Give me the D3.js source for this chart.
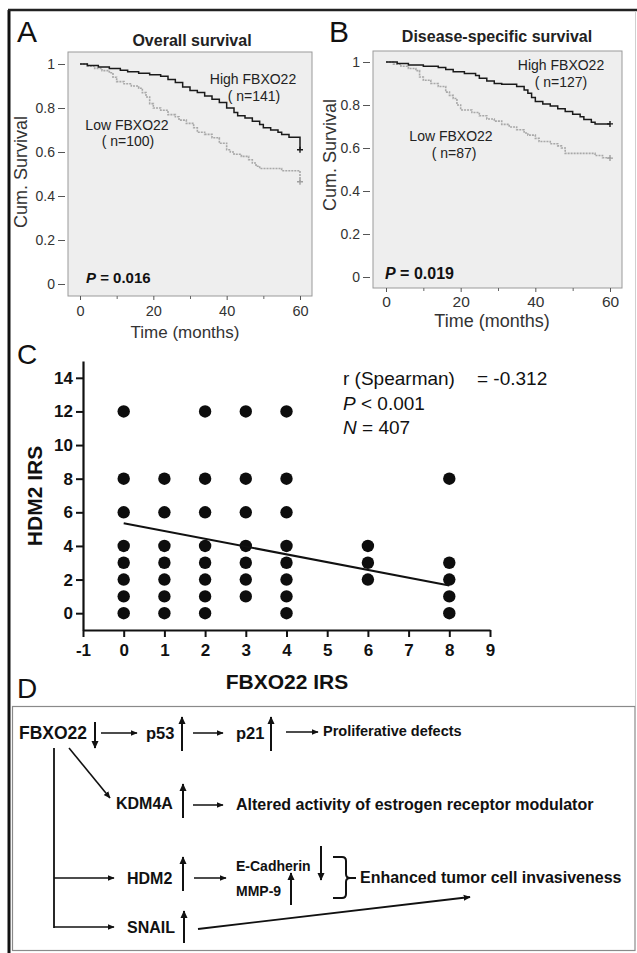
<!DOCTYPE html>
<html><head><meta charset="utf-8">
<script src="https://cdn.jsdelivr.net/npm/d3@7/dist/d3.min.js"></script>
<style>
html,body{margin:0;padding:0;background:#fff;}
svg{display:block;font-family:"Liberation Sans",Arial,Helvetica,sans-serif;}
</style></head><body>
<svg id="fig" width="637" height="953"></svg>
<script>
// ---------------- DATA ----------------
// Kaplan-Meier tick values
const kmTicksY = [0, 0.2, 0.4, 0.6, 0.8, 1];
const kmTickLabelsY = ["0", "0.2", "0.4", "0.6", "0.8", "1"];
const kmTicksX = [0, 20, 40, 60];
const kmMinorX = [10, 30, 50];

// Panel A: overall survival  [time (months), cumulative survival]
const osHigh = [[0,1],[2,0.993],[5,0.986],[8,0.979],[11,0.972],[13,0.965],[16,0.958],[19,0.951],[22,0.944],[24,0.93],[26,0.916],[28,0.895],[30,0.88],[32,0.87],[34,0.855],[36,0.84],[38,0.825],[40,0.8],[42,0.78],[43,0.765],[45,0.755],[47,0.74],[49,0.725],[50,0.71],[52,0.7],[54,0.69],[55,0.68],[57,0.667],[60,0.61]];
const osLow = [[0,1],[2,0.99],[4,0.98],[6,0.97],[8,0.96],[9,0.94],[10,0.92],[12,0.91],[14,0.9],[16,0.89],[17,0.87],[18,0.85],[19,0.82],[20,0.8],[22,0.79],[24,0.77],[26,0.76],[27,0.745],[29,0.73],[31,0.71],[32,0.69],[34,0.68],[36,0.665],[38,0.64],[40,0.61],[41,0.6],[42,0.59],[44,0.58],[46,0.565],[47,0.55],[48,0.535],[49,0.525],[55,0.515],[60,0.465]];
const osLabels = ["High FBXO22", "( n=141)", "Low FBXO22", "( n=100)"];
const osP = "0.016";

// Panel B: disease-specific survival
const dssHigh = [[0,1],[3,0.993],[6,0.986],[10,0.98],[14,0.974],[16,0.965],[18,0.955],[21,0.946],[24,0.937],[25,0.925],[27,0.912],[29,0.9],[31,0.897],[35,0.886],[37,0.87],[38,0.855],[39,0.835],[40,0.816],[42,0.805],[44,0.795],[46,0.783],[48,0.77],[50,0.757],[52,0.745],[53,0.733],[55,0.72],[56,0.712],[60,0.712]];
const dssLow = [[0,1],[2,0.99],[4,0.98],[6,0.97],[8,0.96],[9,0.93],[10,0.915],[12,0.9],[14,0.886],[16,0.86],[17,0.845],[18,0.83],[19,0.8],[20,0.777],[23,0.765],[25,0.75],[27,0.735],[29,0.725],[31,0.71],[33,0.698],[35,0.685],[37,0.67],[38,0.66],[40,0.645],[41,0.63],[44,0.62],[46,0.61],[47,0.6],[48,0.575],[56,0.565],[58,0.555],[60,0.553]];
const dssLabels = ["High FBXO22", "( n=127)", "Low FBXO22", "( n=87)"];
const dssP = "0.019";

// Panel C: scatter  FBXO22 IRS (x) vs HDM2 IRS (y)
const fbxo22IRS = [0,0,0,0,0,0,0,0, 1,1,1,1,1,1,1, 2,2,2,2,2,2,2,2, 3,3,3,3,3,3,3, 4,4,4,4,4,4,4,4, 6,6,6, 8,8,8,8,8];
const hdm2IRS   = [12,8,6,4,3,2,1,0, 8,6,4,3,2,1,0, 12,8,6,4,3,2,1,0, 12,8,6,4,3,2,1, 12,8,6,4,3,2,1,0, 4,3,2, 8,3,2,1,0];
const scatterTicksX = [-1,0,1,2,3,4,5,6,7,8,9];
const scatterTicksY = [0,2,4,6,8,10,12,14];
const regression = [[0,5.35],[8,1.65]];
const statsLines = ["r (Spearman)", "= -0.312", "< 0.001", "= 407"];

// ---------------- DRAW ----------------
const svg = d3.select("#fig");
const FONT = '"Liberation Sans",Arial,Helvetica,sans-serif';

const defs = svg.append("defs");
defs.append("marker").attr("id","ah").attr("viewBox","0 0 10 10")
  .attr("refX",9).attr("refY",5).attr("markerWidth",7).attr("markerHeight",7)
  .attr("markerUnits","userSpaceOnUse").attr("orient","auto")
  .append("path").attr("d","M0,0.8 L10,5 L0,9.2 Z").attr("fill","#111");
defs.append("marker").attr("id","ahs").attr("viewBox","0 0 10 10")
  .attr("refX",9).attr("refY",5).attr("markerWidth",8).attr("markerHeight",8)
  .attr("markerUnits","userSpaceOnUse").attr("orient","auto")
  .append("path").attr("d","M0,0.5 L10,5 L0,9.5 Z").attr("fill","#111");

// figure frame
svg.append("line").attr("x1",9).attr("y1",10).attr("x2",9).attr("y2",953).attr("stroke","#111").attr("stroke-width",3);
svg.append("line").attr("x1",8).attr("y1",10).attr("x2",637).attr("y2",10).attr("stroke","#222").attr("stroke-width",2.5);
svg.append("line").attr("x1",635.5).attr("y1",11).attr("x2",635.5).attr("y2",706).attr("stroke","#cfcfcf").attr("stroke-width",1);

function panelLetter(t,x,y,size){
  svg.append("text").attr("x",x).attr("y",y).attr("font-size",size).attr("fill","#111").text(t);
}

function drawKM(cfg){
  const g = svg.append("g");
  const x = d3.scaleLinear().domain([0,60]).range(cfg.xr);
  const y = d3.scaleLinear().domain([0,1]).range(cfg.yr);
  const r = cfg.rect;
  g.append("rect").attr("x",r[0]).attr("y",r[1]).attr("width",r[2]-r[0]).attr("height",r[3]-r[1])
    .attr("fill","#eeeeee").attr("stroke","#9a9a9a").attr("stroke-width",1);
  g.append("text").attr("x",cfg.titleX).attr("y",cfg.titleY).attr("text-anchor","middle")
    .attr("font-size",16).attr("font-weight","bold").attr("fill","#222").text(cfg.title);
  const ya = g.append("g").attr("transform",`translate(${r[0]-3},0)`)
    .call(d3.axisLeft(y).tickValues(kmTicksY).tickFormat((d,i)=>kmTickLabelsY[i]).tickSize(7).tickPadding(3));
  ya.select(".domain").remove();
  ya.selectAll("line").attr("stroke","#555");
  ya.selectAll("text").attr("font-size",14).attr("font-family",FONT).attr("fill","#333");
  const xa = g.append("g").attr("transform",`translate(0,${r[3]})`)
    .call(d3.axisBottom(x).tickValues(kmTicksX).tickFormat(d3.format("d")).tickSize(4).tickPadding(cfg.xPad));
  xa.select(".domain").remove();
  xa.selectAll("line").attr("stroke","#555");
  xa.selectAll("text").attr("font-size",cfg.xFont).attr("font-family",FONT).attr("fill","#333");
  const xm = g.append("g").attr("transform",`translate(0,${r[3]})`)
    .call(d3.axisBottom(x).tickValues(kmMinorX).tickFormat("").tickSize(3));
  xm.select(".domain").remove();
  xm.selectAll("line").attr("stroke","#666");
  g.append("text").attr("transform",`translate(${cfg.yLabX},${cfg.yLabY}) rotate(-90)`).attr("text-anchor","middle")
    .attr("font-size",18).attr("fill","#333").text("Cum. Survival");
  g.append("text").attr("x",cfg.xLabX).attr("y",cfg.xLabY).attr("text-anchor","middle")
    .attr("font-size",cfg.xLabFont).attr("fill","#333").text("Time (months)");
  const line = d3.line().x(d=>x(d[0])).y(d=>y(d[1])).curve(d3.curveStepAfter);
  g.append("path").datum(cfg.low).attr("d",line).attr("fill","none").attr("stroke","#a8a8a8")
    .attr("stroke-width",1.6).attr("stroke-dasharray","2,1");
  g.append("path").datum(cfg.high).attr("d",line).attr("fill","none").attr("stroke","#1a1a1a").attr("stroke-width",1.5);
  [[cfg.high,"#1a1a1a"],[cfg.low,"#a0a0a0"]].forEach(([s,c])=>{
    const p = s[s.length-1];
    const cx = x(p[0]), cy = y(p[1]);
    g.append("path").attr("d",`M${cx-3},${cy}H${cx+3}M${cx},${cy-3}V${cy+3}`).attr("stroke",c).attr("stroke-width",1.4);
  });
  const L = cfg.labels, P = cfg.labPos;
  L.forEach((t,i)=>{
    g.append("text").attr("x",P[i][0]).attr("y",P[i][1]).attr("text-anchor","middle")
      .attr("font-size",14).attr("fill","#222").text(t);
  });
  const pt = g.append("text").attr("x",cfg.pPos[0]).attr("y",cfg.pPos[1]).attr("font-size",cfg.pFont)
    .attr("font-weight","bold").attr("fill","#111");
  pt.append("tspan").attr("font-style","italic").text("P");
  pt.append("tspan").text(" = " + cfg.p);
}

panelLetter("A",17,42,30);
drawKM({rect:[68,52,312,296], xr:[80,300], yr:[284,64], title:"Overall survival", titleX:192, titleY:46,
  xPad:6, xFont:14.5, yLabX:27, yLabY:172, xLabX:185, xLabY:338, xLabFont:17,
  high:osHigh, low:osLow, labels:osLabels, labPos:[[253,84],[254,101],[127,130],[128,146]],
  p:osP, pPos:[86,283], pFont:15});

panelLetter("B",329,42,30);
drawKM({rect:[373,51,622,288], xr:[386,610], yr:[277,62], title:"Disease-specific survival", titleX:497, titleY:42,
  xPad:4, xFont:15.5, yLabX:336, yLabY:155, xLabX:492, xLabY:327, xLabFont:18,
  high:dssHigh, low:dssLow, labels:dssLabels, labPos:[[561,70],[561,87],[451,141],[454,158]],
  p:dssP, pPos:[385,279], pFont:16});

// ---------------- Panel C ----------------
panelLetter("C",17,364,28);
(function(){
  const g = svg.append("g");
  const x = d3.scaleLinear().domain([-1,9]).range([83,490]);
  const y = d3.scaleLinear().domain([-1,15]).range([630,361]);
  const ya = g.append("g").attr("transform","translate(83,0)")
    .call(d3.axisLeft(y).tickValues(scatterTicksY).tickFormat(d=>String(d)).tickSize(7).tickSizeOuter(0).tickPadding(3));
  const xa = g.append("g").attr("transform","translate(0,630)")
    .call(d3.axisBottom(x).tickValues(scatterTicksX).tickFormat(d=>String(d)).tickSize(7).tickSizeOuter(0).tickPadding(7));
  [ya,xa].forEach(a=>{
    a.select(".domain").attr("stroke","#111").attr("stroke-width",2.2);
    a.selectAll(".tick line").attr("stroke","#111").attr("stroke-width",2);
    a.selectAll("text").attr("font-size",17).attr("font-weight","bold").attr("font-family",FONT).attr("fill","#111");
  });
  g.append("text").attr("transform","translate(42,496) rotate(-90)").attr("text-anchor","middle")
    .attr("font-size",21).attr("font-weight","bold").attr("fill","#111").text("HDM2 IRS");
  g.append("text").attr("x",287).attr("y",689).attr("text-anchor","middle")
    .attr("font-size",21).attr("font-weight","bold").attr("fill","#111").text("FBXO22 IRS");
  g.selectAll("circle.pt").data(fbxo22IRS.map((v,i)=>[v,hdm2IRS[i]])).enter().append("circle")
    .attr("class","pt").attr("cx",d=>x(d[0])).attr("cy",d=>y(d[1])).attr("r",6.2).attr("fill","#0d0d0d");
  g.append("path").datum(regression).attr("d",d3.line().x(d=>x(d[0])).y(d=>y(d[1])))
    .attr("stroke","#111").attr("stroke-width",2).attr("fill","none");
  g.append("text").attr("x",343).attr("y",385).attr("font-size",19).attr("fill","#111").text(statsLines[0]);
  g.append("text").attr("x",477).attr("y",385).attr("font-size",19).attr("fill","#111").text(statsLines[1]);
  const t2 = g.append("text").attr("x",343).attr("y",410).attr("font-size",19).attr("fill","#111");
  t2.append("tspan").attr("font-style","italic").text("P");
  t2.append("tspan").text(" " + statsLines[2]);
  const t3 = g.append("text").attr("x",343).attr("y",434).attr("font-size",19).attr("fill","#111");
  t3.append("tspan").attr("font-style","italic").text("N");
  t3.append("tspan").text(" " + statsLines[3]);
})();

// ---------------- Panel D ----------------
panelLetter("D",17,698,28);
(function(){
  const g = svg.append("g");
  g.append("rect").attr("x",12.5).attr("y",706.5).attr("width",622.5).attr("height",244)
    .attr("fill","none").attr("stroke","#8a8a8a").attr("stroke-width",1.2);
  function txt(t,x,y,s){ g.append("text").attr("x",x).attr("y",y).attr("font-size",s).attr("font-weight","bold").attr("fill","#111").text(t); }
  function arrow(x1,y1,x2,y2,w,m){ g.append("line").attr("x1",x1).attr("y1",y1).attr("x2",x2).attr("y2",y2)
      .attr("stroke","#111").attr("stroke-width",w||1.5).attr("marker-end",`url(#${m||"ah"})`); }
  function ln(x1,y1,x2,y2,w){ g.append("line").attr("x1",x1).attr("y1",y1).attr("x2",x2).attr("y2",y2)
      .attr("stroke","#111").attr("stroke-width",w||1.8); }

  txt("FBXO22",19,739,17.5);
  arrow(95,722,95,748,2,"ahs");
  arrow(101,733,137,733);
  txt("p53",146,739,16.5);
  arrow(182,751,182,717,2,"ahs");
  arrow(193,733,223,733);
  txt("p21",236,739,16.5);
  arrow(271,751,271,717,2,"ahs");
  arrow(286,732,318,732);
  txt("Proliferative defects",323,736,14.5);

  arrow(69,748,110,798,1.6);
  ln(54,748,54,928);

  txt("KDM4A",116,809,16);
  arrow(183,818,183,784,2,"ahs");
  arrow(193,805,223,805);
  txt("Altered activity of estrogen receptor modulator",236,810,16);

  arrow(54,878,114,878);
  txt("HDM2",127,884,16);
  arrow(183,891,183,857,2,"ahs");
  arrow(194,878,226,878);
  txt("E-Cadherin",236,871,14);
  txt("MMP-9",236,896,14);
  arrow(321,846,321,880,2,"ahs");
  arrow(291,905,291,873,2,"ahs");
  g.append("path").attr("d","M333,857 L342,857 Q346,857 346,861 L346,874 Q346,878 350,878 L356,878 M350,878 Q346,878 346,882 L346,894 Q346,898 342,898 L333,898")
    .attr("fill","none").attr("stroke","#111").attr("stroke-width",2);
  txt("Enhanced tumor cell invasiveness",360,883,16);

  arrow(54,927,114,927);
  txt("SNAIL",127,933,16);
  arrow(184,943,184,911,2,"ahs");
  arrow(198,929,470,897,1.8);
})();
</script>
</body></html>
